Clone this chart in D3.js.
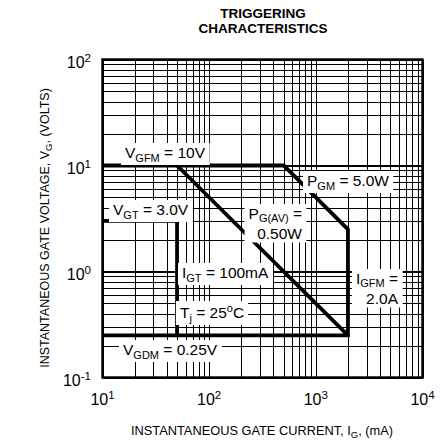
<!DOCTYPE html>
<html><head><meta charset="utf-8">
<script src="https://cdn.jsdelivr.net/npm/d3@7"></script>
<style>
body{margin:0;background:#fff}
text{font-family:"Liberation Sans",Arial,Helvetica,sans-serif;fill:#000}
</style>
</head><body>
<svg id="chart" width="441" height="445"></svg>
<script>
// ---- data ----
const titleLines = ["TRIGGERING", "CHARACTERISTICS"];
const xDomain = [10, 10000];          // mA
const yDomain = [0.1, 100];           // V
const xTickValues = [10, 100, 1000, 10000];
const xTickExp = ["1", "2", "3", "4"];
const yTickValues = [0.1, 1, 10, 100];
const yTickExp = ["-1", "0", "1", "2"];
// outer limit: VGFM=10V, PGM=5W, IGFM=2A, VGDM=0.25V
const outerI = [10, 500, 2000, 2000, 10];
const outerV = [10, 10, 2.5, 0.25, 0.25];
// average power limit 0.5W
const pavI = [50, 2000];
const pavV = [10, 0.25];
// gate trigger region (VGT = 3.0V)
const gtI = [10, 50, 50];
const gtV = [3.0, 3.0, 0.25];
const xTitle = [["INSTANTANEOUS GATE CURRENT, I", ""], ["G", "sub"], [", (mA)", ""]];
const yTitle = [["INSTANTANEOUS GATE VOLTAGE, V", ""], ["G", "sub"], [", (VOLTS)", ""]];
// annotations: lines of [text, style] parts
const notes = [
  {x: 125, y: 158, anchor: "start", lines: [[["V",""],["GFM","sub"],[" = 10V",""]]]},
  {x: 113, y: 215, anchor: "start", lines: [[["V",""],["GT","sub"],[" = 3.0V",""]]]},
  {x: 302, y: 219, anchor: "end", lines: [[["P",""],["G(AV)","sub"],[" =",""]], [["0.50W",""]]]},
  {x: 307, y: 186, anchor: "start", lines: [[["P",""],["GM","sub"],[" = 5.0W",""]]]},
  {x: 182, y: 278, anchor: "start", lines: [[["I",""],["GT","sub"],[" = 100mA",""]]]},
  {x: 180, y: 318, anchor: "start", lines: [[["T",""],["j","sub"],[" = 25",""],["o","sup"],["C",""]]]},
  {x: 123, y: 355, anchor: "start", lines: [[["V",""],["GDM","sub"],[" = 0.25V",""]]]},
  {x: 398, y: 284, anchor: "end", lines: [[["I",""],["GFM","sub"],[" =",""]], [["2.0A",""]]]}
];

// ---- layout ----
const svg = d3.select("#chart");
const L = 102.5, R = 422.5, T = 59.5, B = 377.5;
const x = d3.scaleLog().domain(xDomain).range([L, R]);
const y = d3.scaleLog().domain(yDomain).range([B, T]);
const FS = 15.5, SUB = 11, LINE = 19.5;

function addParts(t, parts, fs, sfs, subDy, lineX, firstDy) {
  let shift = 0;
  parts.forEach(([s, kind], i) => {
    const ts = t.append("tspan").text(s);
    let target = 0;
    if (kind === "sub") { ts.attr("font-size", sfs); target = subDy; }
    else if (kind === "sup") { ts.attr("font-size", sfs); target = -6; }
    else ts.attr("font-size", fs);
    let dy = target - shift;
    if (i === 0 && firstDy !== undefined) { dy += firstDy; ts.attr("x", lineX); }
    if (dy !== 0) ts.attr("dy", dy);
    shift = target;
  });
  return shift;
}

// title
svg.selectAll("text.title").data(titleLines).join("text")
  .attr("class", "title").attr("x", 263).attr("y", (d, i) => 17.5 + i * 15)
  .attr("text-anchor", "middle").attr("font-weight", "bold").attr("font-size", 13.5)
  .text(d => d);

// grid
const grid = svg.append("g");
grid.append("g").attr("transform", `translate(0,${B})`)
  .call(d3.axisBottom(x).tickSize(-(B - T)).tickFormat(""));
grid.append("g").attr("transform", `translate(${L},0)`)
  .call(d3.axisLeft(y).tickSize(-(R - L)).tickFormat(""));
grid.selectAll(".domain").remove();
grid.selectAll(".tick line").attr("stroke", "#000").attr("stroke-width", 1)
  .attr("shape-rendering", "crispEdges");
grid.selectAll(".tick").filter(d => Math.abs(Math.log10(d) - Math.round(Math.log10(d))) < 1e-9)
  .select("line").attr("stroke-width", 1.6);

// annotation boxes and text
const noteG = svg.append("g");
notes.forEach(n => {
  const g = noteG.append("g");
  const t = g.append("text").attr("x", n.x).attr("y", n.y).attr("text-anchor", n.anchor);
  const subDy = n.lines.length > 1 ? 3 : 4;
  let shift = 0;
  n.lines.forEach((ln, i) => {
    shift = addParts(t, ln, FS, SUB, subDy, n.x, i === 0 ? undefined : LINE - shift);
  });
  const b = t.node().getBBox();
  g.insert("rect", "text").attr("x", b.x - 4).attr("y", b.y - 1)
    .attr("width", b.width + 8).attr("height", b.height + 2).attr("fill", "#fff");
});

// limit curves
const line = d3.line().x(d => x(d[0])).y(d => y(d[1]));
const curves = [d3.zip(outerI, outerV), d3.zip(pavI, pavV), d3.zip(gtI, gtV)];
svg.append("g").selectAll("path").data(curves).join("path")
  .attr("d", line).attr("fill", "none").attr("stroke", "#000").attr("stroke-width", 3.8)
  .attr("stroke-linejoin", "miter");

noteG.raise();

// border
svg.append("rect").attr("x", L).attr("y", T).attr("width", R - L).attr("height", B - T)
  .attr("fill", "none").attr("stroke", "#000").attr("stroke-width", 2.4);

// tick labels
xTickValues.forEach((v, i) => {
  const t = svg.append("text").attr("x", x(v)).attr("y", 405).attr("text-anchor", "middle");
  addParts(t, [["10", ""], [xTickExp[i], "sup"]], 16, 11.5, 4);
});
yTickValues.forEach((v, i) => {
  const t = svg.append("text").attr("x", 91).attr("y", y(v) + 8).attr("text-anchor", "end");
  addParts(t, [["10", ""], [yTickExp[i], "sup"]], 16, 11.5, 4);
});

// axis titles
const xt = svg.append("text").attr("x", 262).attr("y", 435).attr("text-anchor", "middle");
addParts(xt, xTitle, 12.8, 9.5, 3);
const yt = svg.append("text").attr("transform", "translate(49,228) rotate(-90)").attr("text-anchor", "middle");
addParts(yt, yTitle, 12.5, 9.5, 3);
</script>
</body></html>
